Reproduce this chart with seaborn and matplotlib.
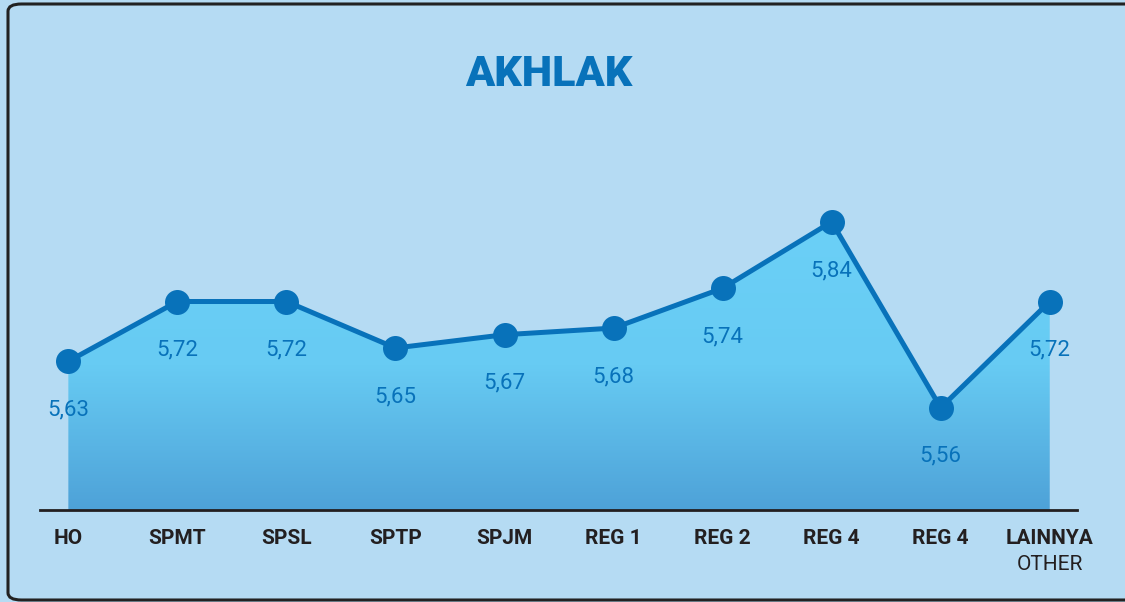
import numpy as np
import pandas as pd
import matplotlib
matplotlib.use("Agg")
import matplotlib.pyplot as plt
import seaborn as sns
from matplotlib.colors import LinearSegmentedColormap
from matplotlib.patches import FancyBboxPatch

# Data
units = ["HO", "SPMT", "SPSL", "SPTP", "SPJM", "REG 1", "REG 2", "REG 4", "REG 4", "LAINNYA"]
scores = [5.63, 5.72, 5.72, 5.65, 5.67, 5.68, 5.74, 5.84, 5.56, 5.72]
value_labels = ["5,63", "5,72", "5,72", "5,65", "5,67", "5,68", "5,74", "5,84", "5,56", "5,72"]
title = "AKHLAK"
last_sublabel = "OTHER"

BG = "#B5DBF3"
LINE = "#0872BA"
TEXT_DARK = "#231F20"

sns.set_theme(style="white")
plt.rcParams["font.family"] = ["Roboto", "DejaVu Sans"]

fig = plt.figure(figsize=(11.25, 6.02), dpi=100, facecolor=BG)

# rounded frame around the card
frame = FancyBboxPatch((8 / 1125, 2 / 602), 1140 / 1125, 596 / 602,
                       boxstyle="round,pad=0,rounding_size=0.012",
                       transform=fig.transFigure, facecolor=BG,
                       edgecolor="#222222", linewidth=2.2, zorder=-5)
fig.patches.append(frame)

ax = fig.add_axes([40 / 1125, 92 / 602, 1037 / 1125, 330 / 602])
ax.set_facecolor("none")
ax.set_zorder(2)

df = pd.DataFrame({"x": np.arange(len(units)), "score": scores})

y0 = 5.406
ytop = 5.903
xlo, xhi = -0.26, len(units) - 1 + 0.25

# gradient area under the line
poly = ax.fill_between(df["x"], df["score"], y0, facecolor="none", edgecolor="none")
cmap = LinearSegmentedColormap.from_list(
    "area", [(0.0, "#4EA2D8"), (0.5, "#67CBF3"), (1.0, "#6BD0F7")])
grad = np.linspace(0, 1, 256).reshape(-1, 1)
img = ax.imshow(grad, cmap=cmap, aspect="auto", origin="lower",
                extent=[0, len(units) - 1, y0, max(scores)], zorder=1)
img.set_clip_path(poly.get_paths()[0], transform=ax.transData)

sns.lineplot(data=df, x="x", y="score", ax=ax, color=LINE, linewidth=3.6,
             marker="o", markersize=18, markeredgewidth=0, zorder=3)
ax.set_xlim(xlo, xhi)
ax.set_ylim(y0, ytop)

for xi, yi, lab in zip(df["x"], df["score"], value_labels):
    ax.annotate(lab, (xi, yi), xytext=(0, -35), textcoords="offset points",
                ha="center", va="center", fontsize=16, color=LINE,
                fontfamily="Roboto")

for side in ["top", "left", "right"]:
    ax.spines[side].set_visible(False)
ax.spines["bottom"].set_color("#231F20")
ax.spines["bottom"].set_linewidth(2)
ax.spines["bottom"].set_zorder(4)

ax.set_yticks([])
ax.set_xticks(df["x"])
ax.set_xticklabels(units, fontsize=15, fontweight="bold", color=TEXT_DARK,
                   fontfamily="Roboto")
ax.tick_params(axis="x", length=0, pad=14)
ax.set_xlabel("")
ax.set_ylabel("")

ax.annotate(last_sublabel, (len(units) - 1, y0), xytext=(0, -39),
            textcoords="offset points", ha="center", va="center",
            fontsize=15, color=TEXT_DARK, fontfamily="Roboto",
            annotation_clip=False)

fig.text(0.488, 1 - 75 / 602, title, ha="center", va="center",
         fontsize=31, fontweight="heavy", color=LINE, fontfamily="Roboto")

fig.savefig("out.png", dpi=100, facecolor=BG)
